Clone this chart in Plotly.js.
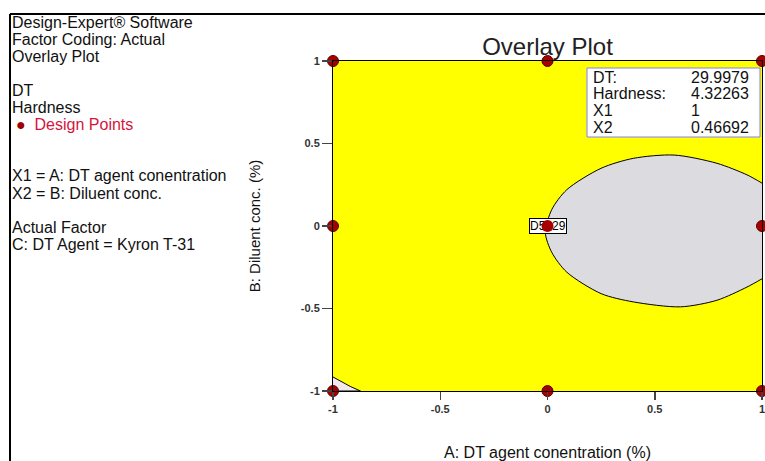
<!DOCTYPE html>
<html>
<head>
<meta charset="utf-8">
<script src="https://cdn.plot.ly/plotly-3.0.1.min.js"></script>
<style>html,body{margin:0;padding:0;background:#fff;}#chart{width:765px;height:461px;}</style>
</head>
<body>
<div id="chart"></div>
<script>
// ---- data ----
const designX = [-1, 0, 1, -1, 0, 1, -1, 0, 1];
const designY = [1, 1, 1, 0, 0, 0, -1, -1, -1];

// boundary of the grey region
const greyX = [1.0, 0.93, 0.79, 0.59, 0.40, 0.25, 0.09, 0.02, -0.01, 0.02, 0.09, 0.25, 0.40, 0.62, 0.79, 0.93, 1.0];
const greyY = [0.26, 0.31, 0.38, 0.43, 0.41, 0.35, 0.22, 0.10, -0.04, -0.16, -0.28, -0.41, -0.46, -0.49, -0.45, -0.37, -0.32];

// small region at lower-left corner
const cornerX = [-1.0, -0.96, -0.92, -0.872, -1.0];
const cornerY = [-0.915, -0.945, -0.972, -1.0, -1.0];

const tickVals = [-1, -0.5, 0, 0.5, 1];
const tickText = ['-1', '-0.5', '0', '0.5', '1'];

const infoLabels = ['DT:', 'Hardness:', 'X1', 'X2'];
const infoValues = ['29.9979', '4.32263', '1', '0.46692'];

const pointLabel = {x: 0, y: 0, text: 'D5: 29'};

const sideNotes = [
  'Design-Expert® Software',
  'Factor Coding: Actual',
  'Overlay Plot',
  '',
  'DT',
  'Hardness',
  '__DP__',
  '',
  '',
  'X1 = A: DT agent conentration',
  'X2 = B: Diluent conc.',
  '',
  'Actual Factor',
  'C: DT Agent = Kyron T-31'
];

// ---- layout constants ----
const W = 765, H = 461;
const M = {l: 333, r: 3, t: 61, b: 70};
const PW = W - M.l - M.r, PH = H - M.t - M.b;
const px2x = p => (p - M.l) / PW;
const py2y = p => (H - M.b - p) / PH;
const FONT = 'Arial, "Liberation Sans", sans-serif';

const traces = [
  {
    type: 'scatter', mode: 'lines', x: greyX, y: greyY,
    fill: 'toself', fillcolor: '#dcdce0',
    line: {color: '#000', width: 1, shape: 'spline', smoothing: 0.8},
    hoverinfo: 'skip'
  },
  {
    type: 'scatter', mode: 'lines', x: cornerX, y: cornerY,
    fill: 'toself', fillcolor: '#f3e8ec',
    line: {color: '#000', width: 1},
    hoverinfo: 'skip'
  },
  {
    type: 'scatter', mode: 'markers', x: designX, y: designY,
    marker: {color: '#a80000', size: 11, line: {color: '#5a0000', width: 1}},
    cliponaxis: false, hoverinfo: 'x+y'
  }
];

const annotations = [];
sideNotes.forEach((t, i) => {
  if (!t) return;
  let txt = t;
  if (t === '__DP__') {
    txt = '<span style="color:#a00000">●</span>  <span style="color:#d4143c">Design Points</span>';
  }
  annotations.push({
    xref: 'paper', yref: 'paper', x: px2x(t === '__DP__' ? 14 : 10), y: py2y(22 + 17.1 * i),
    xanchor: 'left', yanchor: 'middle', showarrow: false, text: txt,
    font: {family: FONT, size: 16, color: '#111'}
  });
});
infoLabels.forEach((t, i) => {
  const yy = py2y(77 + 16.7 * i);
  annotations.push({xref: 'paper', yref: 'paper', x: px2x(591), y: yy, xanchor: 'left', yanchor: 'middle',
    showarrow: false, text: t, font: {family: FONT, size: 16, color: '#111'}});
  annotations.push({xref: 'paper', yref: 'paper', x: px2x(689), y: yy, xanchor: 'left', yanchor: 'middle',
    showarrow: false, text: infoValues[i], font: {family: FONT, size: 16, color: '#111'}});
});
annotations.push({
  x: pointLabel.x, y: pointLabel.y, xref: 'x', yref: 'y', showarrow: false,
  text: pointLabel.text, font: {family: FONT, size: 12, color: '#000'},
  bgcolor: '#fff', bordercolor: '#000', borderwidth: 1, borderpad: 0
});
// design point drawn over its label box (as in the reference): a dot-headed arrow with no text
annotations.push({
  x: pointLabel.x, y: pointLabel.y, xref: 'x', yref: 'y', text: '',
  showarrow: true, arrowhead: 6, arrowsize: 1.15, arrowwidth: 2.6, arrowcolor: '#a80000',
  ax: -2, ay: 0, standoff: 0, startstandoff: 0
});

const shapes = [
  {type: 'line', xref: 'paper', yref: 'paper', x0: px2x(10), x1: px2x(770), y0: py2y(14), y1: py2y(14),
   line: {color: '#000', width: 2}},
  {type: 'line', xref: 'paper', yref: 'paper', x0: px2x(10), x1: px2x(10), y0: py2y(14), y1: py2y(470),
   line: {color: '#000', width: 2}},
  {type: 'rect', xref: 'paper', yref: 'paper', x0: px2x(587), x1: px2x(760), y0: py2y(137), y1: py2y(68),
   fillcolor: '#fff', line: {color: '#7f7fff', width: 1}, layer: 'above'}
];

const layout = {
  width: W, height: H,
  margin: M,
  paper_bgcolor: '#fff',
  plot_bgcolor: '#ffff00',
  showlegend: false,
  title: {text: 'Overlay Plot', font: {family: FONT, size: 24, color: '#222'},
          xref: 'paper', x: 0.5, xanchor: 'center', yref: 'container', y: 1 - 47 / H, yanchor: 'middle'},
  xaxis: {
    range: [-1, 1], tickvals: tickVals, ticktext: tickText,
    ticks: 'outside', ticklen: 8, tickwidth: 1.5, tickcolor: '#444',
    showgrid: false, zeroline: false, ticklabeloverflow: 'allow',
    showline: true, linecolor: '#000', linewidth: 1, mirror: true,
    tickfont: {family: FONT, size: 11, color: '#333', weight: 'bold'},
    title: {text: 'A: DT agent conentration (%)', font: {family: FONT, size: 16, color: '#111'}, standoff: 32}
  },
  yaxis: {
    range: [-1, 1], tickvals: tickVals, ticktext: tickText,
    ticks: 'outside', ticklen: 10, tickwidth: 1.5, tickcolor: '#444',
    showgrid: false, zeroline: false, ticklabeloverflow: 'allow',
    showline: true, linecolor: '#000', linewidth: 1, mirror: true,
    tickfont: {family: FONT, size: 11, color: '#333', weight: 'bold'},
    title: {text: 'B: Diluent conc. (%)', font: {family: FONT, size: 15, color: '#111'}, standoff: 36}
  },
  annotations: annotations,
  shapes: shapes
};

Plotly.newPlot('chart', traces, layout, {displayModeBar: false, staticPlot: true});
</script>
</body>
</html>
